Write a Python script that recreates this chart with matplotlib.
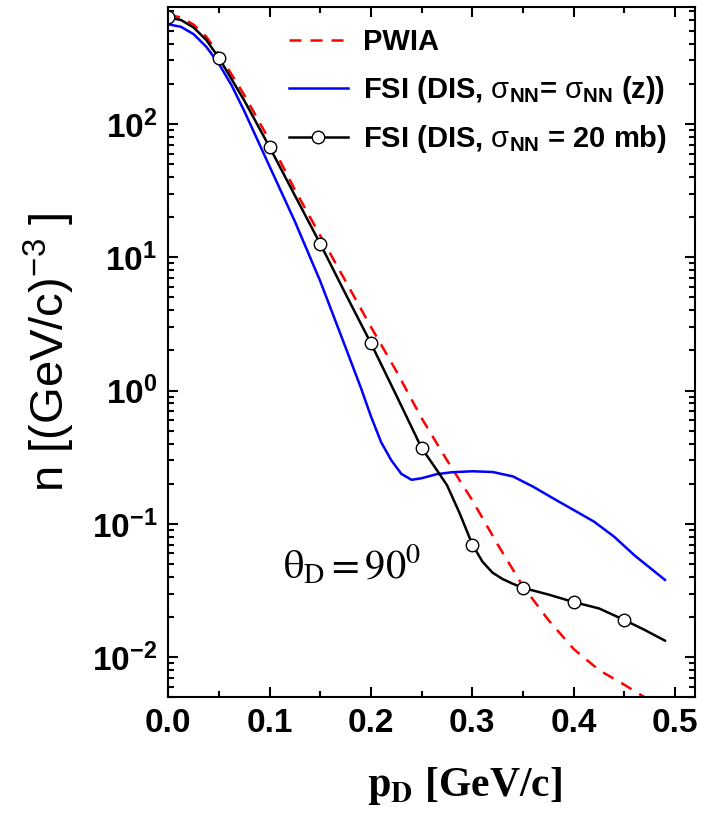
import numpy as np
import matplotlib
matplotlib.use("Agg")
import matplotlib.pyplot as plt
from matplotlib.ticker import MultipleLocator, FuncFormatter, LogLocator

plt.rcParams['mathtext.fontset'] = 'custom'
plt.rcParams['mathtext.rm'] = 'Liberation Sans'
plt.rcParams['mathtext.it'] = 'Liberation Sans:italic'
plt.rcParams['mathtext.bf'] = 'Liberation Sans:bold'
plt.rcParams['font.family'] = 'Liberation Sans'

# ---------------- data ----------------
p_pwia = [0.0, 0.0125, 0.025, 0.0375, 0.05, 0.075, 0.1, 0.125, 0.15, 0.175, 0.2, 0.225, 0.25,
          0.275, 0.3, 0.325, 0.35, 0.375, 0.4, 0.425, 0.45, 0.47, 0.49]
n_pwia = [660, 630, 557, 451, 335, 165, 75, 32, 14.5, 6.6, 3.0, 1.4, 0.62,
          0.30, 0.15, 0.07, 0.034, 0.019, 0.0115, 0.0080, 0.0062, 0.0050, 0.0041]

p_fsi_z = [0.0, 0.0125, 0.025, 0.0375, 0.05, 0.0625, 0.075, 0.1, 0.125, 0.15, 0.175, 0.19, 0.2,
           0.21, 0.22, 0.23, 0.24, 0.25, 0.265, 0.28, 0.3, 0.32, 0.34, 0.36, 0.38,
           0.4, 0.42, 0.44, 0.46, 0.49]
n_fsi_z = [560, 536, 472, 380, 282, 195, 125, 48, 18.5, 6.6, 2.1, 1.05, 0.64,
           0.41, 0.30, 0.237, 0.214, 0.22, 0.236, 0.244, 0.248, 0.245, 0.227, 0.19, 0.155,
           0.127, 0.104, 0.08, 0.058, 0.038]

p_fsi_20 = [0.0, 0.0125, 0.025, 0.0375, 0.05, 0.075, 0.1, 0.125, 0.15, 0.175, 0.2, 0.225, 0.25,
            0.2625, 0.275, 0.2875, 0.3, 0.31, 0.32, 0.33, 0.34, 0.35, 0.375, 0.4, 0.425, 0.45,
            0.47, 0.49]
n_fsi_20 = [630, 603, 530, 427, 313, 150, 67, 29, 12.6, 5.3, 2.26, 0.92, 0.37,
            0.27, 0.195, 0.12, 0.070, 0.052, 0.043, 0.0385, 0.0355, 0.0331, 0.0295, 0.0259, 0.0232,
            0.019, 0.016, 0.0133]
p_markers = [0.0, 0.05, 0.1, 0.15, 0.2, 0.25, 0.3, 0.35, 0.4, 0.45]

labels = ['PWIA',
          r'FSI (DIS, $\mathrm{\sigma}_{\mathbf{NN}}$= $\mathrm{\sigma}_{\mathbf{NN}}$ (z))',
          r'FSI (DIS, $\mathrm{\sigma}_{\mathbf{NN}}$ = 20 mb)']

# ---------------- figure ----------------
fig = plt.figure(figsize=(7.02, 8.21), dpi=100)
ax = fig.add_axes([0.2397, 0.1507, 0.7508, 0.8408])

mk_idx = [p_fsi_20.index(p) for p in p_markers]

ax.plot(p_pwia, n_pwia, color='#ff0000', lw=1.8, ls=(0, (4.8, 3.6)), label=labels[0])
ax.plot(p_fsi_z, n_fsi_z, color='#0000ff', lw=1.8, label=labels[1])
ax.plot(p_fsi_20, n_fsi_20, color='black', lw=1.8, marker='o', markevery=mk_idx,
        markersize=9, markerfacecolor='white', markeredgecolor='black',
        markeredgewidth=1.0, label=labels[2])

ax.set_yscale('log')
ax.set_xlim(0, 0.52)
ax.set_ylim(5e-3, 755)

ax.xaxis.set_major_locator(MultipleLocator(0.1))
ax.xaxis.set_minor_locator(MultipleLocator(0.05))
ax.xaxis.set_major_formatter(FuncFormatter(lambda v, pos: f'{v:.1f}'))
ax.yaxis.set_major_locator(LogLocator(base=10, numticks=20))
ax.yaxis.set_minor_locator(LogLocator(base=10, subs=np.arange(2, 10), numticks=20))
ax.yaxis.set_major_formatter(FuncFormatter(lambda v, pos: r'$\mathbf{10^{%d}}$' % round(np.log10(v))))

ax.tick_params(which='both', direction='in', top=True, right=True, width=1.5)
ax.tick_params(which='major', length=7.5, pad=8, labelsize=24)
ax.tick_params(which='minor', length=4.5)
for lab in ax.get_xticklabels():
    lab.set_fontweight('bold')
for sp in ax.spines.values():
    sp.set_linewidth(1.5)

ax.set_ylabel(r'n [(GeV/c)$^{-3}$ ]', fontsize=34)
ax.yaxis.set_label_coords(-0.173, 0.5)
ax.set_xlabel(r'$\mathbf{p_{D}}$ [GeV/c]', fontsize=30, fontweight='bold',
              fontfamily='Liberation Serif', math_fontfamily='stix')
ax.xaxis.set_label_coords(0.561, -0.098)

ax.text(0.113, 0.039, r'$\mathrm{\theta}_{\rm D} = 90^{0}$', fontsize=29,
        math_fontfamily='stix', ha='left', va='baseline')

leg = ax.legend(loc='upper left', bbox_to_anchor=(0.411, 0.9655),
                bbox_transform=fig.transFigure, frameon=False,
                prop={'size': 21, 'weight': 'bold'}, handlelength=2.05,
                handletextpad=0.5, labelspacing=0.6, borderpad=0, borderaxespad=0)

fig.savefig('out.png', dpi=100)
